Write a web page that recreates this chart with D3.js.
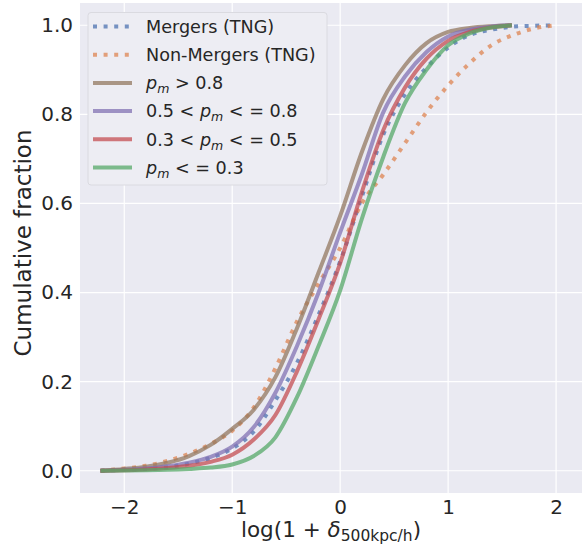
<!DOCTYPE html>
<meta charset="utf-8">
<head>
    <style>
     body { margin: 0; background: #fff; }
     text { font-family: "DejaVu Sans", sans-serif; fill: #262626; }
    </style>
</head>
<body>
</body>
<script src="https://cdn.jsdelivr.net/npm/d3@7"></script>
<script>
 // x positions the curves were read at
 const xSolid = [-2.22, -2.0, -1.8, -1.6, -1.4, -1.2, -1.0, -0.8, -0.6, -0.4, -0.2, 0, 0.2, 0.4, 0.6, 0.8, 1.0, 1.2, 1.4, 1.59];
 const xDotted = [-2.22, -2.0, -1.8, -1.6, -1.4, -1.2, -1.0, -0.8, -0.6, -0.4, -0.2, 0, 0.2, 0.4, 0.6, 0.8, 1.0, 1.2, 1.4, 1.6, 1.8, 1.99];

 // cumulative fractions
 const mergersTNG    = [0, 0.002, 0.004, 0.008, 0.016, 0.029, 0.05, 0.088, 0.158, 0.242, 0.35, 0.47, 0.615, 0.755, 0.845, 0.905, 0.95, 0.978, 0.99, 0.997, 0.999, 1.0];
 const nonMergersTNG = [0, 0.005, 0.011, 0.022, 0.038, 0.06, 0.09, 0.142, 0.23, 0.335, 0.42, 0.5, 0.60, 0.665, 0.735, 0.805, 0.865, 0.915, 0.955, 0.978, 0.993, 1.0];
 const pmHigh   = [0, 0.004, 0.009, 0.018, 0.033, 0.058, 0.094, 0.137, 0.21, 0.32, 0.445, 0.572, 0.715, 0.835, 0.91, 0.96, 0.985, 0.994, 0.998, 1.0];
 const pmMid    = [0, 0.002, 0.005, 0.01, 0.018, 0.031, 0.054, 0.098, 0.175, 0.28, 0.40, 0.535, 0.665, 0.805, 0.885, 0.94, 0.975, 0.99, 0.997, 1.0];
 const pmLowMid = [0, 0.001, 0.003, 0.006, 0.011, 0.02, 0.036, 0.07, 0.125, 0.223, 0.34, 0.466, 0.625, 0.765, 0.86, 0.925, 0.965, 0.985, 0.995, 1.0];
 const pmLow    = [0, 0.0005, 0.001, 0.002, 0.004, 0.007, 0.014, 0.033, 0.075, 0.165, 0.28, 0.405, 0.565, 0.705, 0.825, 0.9, 0.955, 0.982, 0.995, 1.0];

 const xTicks = [-2, -1, 0, 1, 2];
 const yTicks = [0, 0.2, 0.4, 0.6, 0.8, 1.0];

 const series = [
     {xs: xDotted, ys: mergersTNG, color: "#4C72B0", dotted: true,
      label: [{t: "Mergers (TNG)"}]},
     {xs: xDotted, ys: nonMergersTNG, color: "#DD8452", dotted: true,
      label: [{t: "Non-Mergers (TNG)"}]},
     {xs: xSolid, ys: pmHigh, color: "#937860",
      label: [{t: "p", it: true}, {t: "m", it: true, sub: true}, {t: " > 0.8"}]},
     {xs: xSolid, ys: pmMid, color: "#8172B3",
      label: [{t: "0.5 < "}, {t: "p", it: true}, {t: "m", it: true, sub: true}, {t: " < = 0.8"}]},
     {xs: xSolid, ys: pmLowMid, color: "#C44E52",
      label: [{t: "0.3 < "}, {t: "p", it: true}, {t: "m", it: true, sub: true}, {t: " < = 0.5"}]},
     {xs: xSolid, ys: pmLow, color: "#55A868",
      label: [{t: "p", it: true}, {t: "m", it: true, sub: true}, {t: " < = 0.3"}]}
 ];

 var width = 585,
     height = 547;

 let svg = d3.select("body").append("svg")
             .attr("width", width)
             .attr("height", height);

 const x = d3.scaleLinear().domain([-2.41, 2.24]).range([80, 582]);
 const y = d3.scaleLinear().domain([-0.05, 1.05]).range([493, 3]);

 // background + grid
 svg.append("rect")
    .attr("x", 80).attr("y", 3)
    .attr("width", 502).attr("height", 490)
    .attr("fill", "#EAEAF2");

 svg.append("g").selectAll("line")
    .data(xTicks).join("line")
    .attr("x1", d => x(d)).attr("x2", d => x(d))
    .attr("y1", 3).attr("y2", 493)
    .attr("stroke", "#fff").attr("stroke-width", 1.2);
 svg.append("g").selectAll("line")
    .data(yTicks).join("line")
    .attr("y1", d => y(d)).attr("y2", d => y(d))
    .attr("x1", 80).attr("x2", 582)
    .attr("stroke", "#fff").attr("stroke-width", 1.2);

 // axes (labels only)
 const xAxis = svg.append("g")
                  .attr("transform", "translate(0,493)")
                  .call(d3.axisBottom(x).tickValues(xTicks).tickSize(0).tickPadding(7).tickFormat(d3.format("d")));
 const yAxis = svg.append("g")
                  .attr("transform", "translate(80,0)")
                  .call(d3.axisLeft(y).tickValues(yTicks).tickSize(0).tickPadding(7).tickFormat(d3.format(".1f")));
 [xAxis, yAxis].forEach(a => {
     a.select(".domain").remove();
     a.selectAll("text")
      .attr("font-family", "DejaVu Sans")
      .attr("font-size", 20)
      .attr("fill", "#262626");
 });

 // curves
 const line = d3.line()
                .x(d => x(d[0]))
                .y(d => y(d[1]))
                .curve(d3.curveMonotoneX);

 svg.append("g").selectAll("path")
    .data(series).join("path")
    .attr("d", s => line(s.xs.map((v, i) => [v, s.ys[i]])))
    .attr("fill", "none")
    .attr("stroke", s => s.color)
    .attr("stroke-opacity", 0.75)
    .attr("stroke-width", 4)
    .attr("stroke-dasharray", s => s.dotted ? "4,6.6" : null);

 // legend
 const lg = svg.append("g");
 lg.append("rect")
   .attr("x", 88).attr("y", 12.5)
   .attr("width", 239).attr("height", 172.5)
   .attr("rx", 3)
   .attr("fill", "#EDEDF3")
   .attr("stroke", "#DADAE0")
   .attr("stroke-width", 1);

 const rows = lg.selectAll("g.row")
                .data(series).join("g")
                .attr("class", "row")
                .attr("transform", (d, i) => `translate(0,${26.5 + i * 28.2})`);
 rows.append("line")
     .attr("x1", 93).attr("x2", 132)
     .attr("stroke", s => s.color)
     .attr("stroke-opacity", 0.75)
     .attr("stroke-width", 4)
     .attr("stroke-dasharray", s => s.dotted ? "4,6.6" : null);
 rows.each(function(s) {
     const t = d3.select(this).append("text")
                 .attr("x", 146).attr("y", 6.3)
                 .attr("font-size", 17.6);
     let shift = 0;
     s.label.forEach(p => {
         const sp = t.append("tspan").text(p.t);
         if (p.it) sp.attr("font-style", "italic");
         if (p.sub) {
             sp.attr("font-size", 12.5).attr("dy", 4);
             shift = 4;
         } else if (shift) {
             sp.attr("dy", -shift);
             shift = 0;
         }
     });
 });

 // axis titles
 const xl = svg.append("text")
               .attr("x", 331).attr("y", 537)
               .attr("text-anchor", "middle")
               .attr("font-size", 21.5);
 xl.append("tspan").text("log(1 + ");
 xl.append("tspan").text("δ").attr("font-style", "italic");
 xl.append("tspan").text("500kpc/h").attr("font-size", 15.5).attr("dy", 4);
 xl.append("tspan").text(")").attr("dy", -4);

 svg.append("text")
    .attr("transform", "translate(31,243) rotate(-90)")
    .attr("text-anchor", "middle")
    .attr("font-size", 23)
    .text("Cumulative fraction");
</script>
